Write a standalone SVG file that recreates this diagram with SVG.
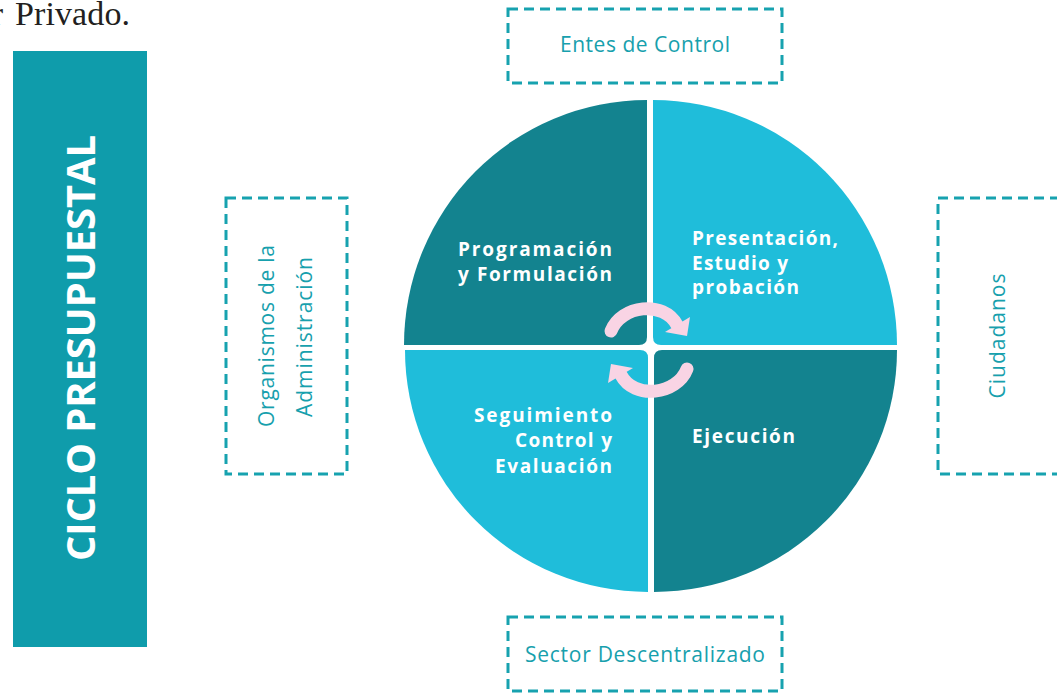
<svg xmlns="http://www.w3.org/2000/svg" width="1057" height="693" viewBox="0 0 1057 693">
<style>
.dash{fill:none;stroke:#17A2AF;stroke-width:3;stroke-dasharray:10 6}
.lbl{font-family:"Open Sans","Liberation Sans",sans-serif;font-size:21px;fill:#17A0AD}
.ql{font-family:"Open Sans","Liberation Sans",sans-serif;font-size:19px;font-weight:bold;fill:#FFFFFF}
.dark{fill:#13838F}
.light{fill:#1FBDDA}
.arc{fill:none;stroke:#F9D4E4;stroke-width:13;stroke-linecap:round}
.head{fill:#F9D4E4}
</style>
<rect width="1057" height="693" fill="#FFFFFF"/>
<g id="intro-text" font-family="'Liberation Serif',serif" font-size="34" fill="#231F20">
<text x="3" y="25" text-anchor="end">r</text>
<text x="15" y="25" textLength="115">Privado.</text>
</g>
<g id="title-bar">
<rect x="13" y="51" width="134" height="596" fill="#0F9CAB"/>
<text transform="translate(95,348) rotate(-90)" text-anchor="middle" font-family="'Open Sans','Liberation Sans',sans-serif" font-size="40" font-weight="bold" fill="#FFFFFF" textLength="426">CICLO PRESUPUESTAL</text>
</g>
<g id="entes-de-control">
<rect class="dash" x="508" y="9" width="274" height="74"/>
<text class="lbl" x="645" y="52" text-anchor="middle" textLength="170">Entes de Control</text>
</g>
<g id="sector-descentralizado">
<rect class="dash" x="508" y="617" width="274" height="74"/>
<text class="lbl" x="645" y="662" text-anchor="middle" textLength="240">Sector Descentralizado</text>
</g>
<g id="organismos">
<rect class="dash" x="226" y="198" width="121" height="276"/>
<text class="lbl" transform="translate(274,336) rotate(-90)" text-anchor="middle" textLength="182">Organismos de la</text>
<text class="lbl" transform="translate(312,337) rotate(-90)" text-anchor="middle" textLength="160">Administración</text>
</g>
<g id="ciudadanos">
<rect class="dash" x="938" y="198" width="140" height="276"/>
<text class="lbl" transform="translate(1005,336) rotate(-90)" text-anchor="middle" textLength="125">Ciudadanos</text>
</g>
<g id="programacion">
<path class="dark" d="M404,345 A243 245 0 0 1 647,100 L647,337 Q647,345 639,345 Z"/>
<text class="ql" x="458" y="256" textLength="154">Programación</text>
<text class="ql" x="458" y="281" textLength="154">y Formulación</text>
</g>
<g id="presentacion">
<path class="light" d="M653,100 A244 245 0 0 1 897,345 L661,345 Q653,345 653,337 Z"/>
<text class="ql" x="692" y="245" textLength="146">Presentación,</text>
<text class="ql" x="692" y="270" textLength="96">Estudio y</text>
<text class="ql" x="692" y="294" textLength="107">probación</text>
</g>
<g id="seguimiento">
<path class="light" d="M648,592 A243 242 0 0 1 405,350 L640,350 Q648,350 648,358 Z"/>
<text class="ql" x="612" y="422" text-anchor="end" textLength="138">Seguimiento</text>
<text class="ql" x="612" y="447" text-anchor="end" textLength="97">Control y</text>
<text class="ql" x="612" y="473" text-anchor="end" textLength="117">Evaluación</text>
</g>
<g id="ejecucion">
<path class="dark" d="M897,350 A243 242 0 0 1 654,592 L654,358 Q654,350 662,350 Z"/>
<text class="ql" x="692" y="443" textLength="103">Ejecución</text>
</g>
<g id="connectors">
<g id="arrow-top">
<path class="arc" d="M611,331 C621,305 664,300 677,325"/>
<polygon class="head" points="690,317 665,332 687,336"/>
</g>
<g id="arrow-bottom" transform="rotate(180 649 350)">
<path class="arc" d="M611,331 C621,305 664,300 677,325"/>
<polygon class="head" points="690,317 665,332 687,336"/>
</g>
</g>
</svg>
